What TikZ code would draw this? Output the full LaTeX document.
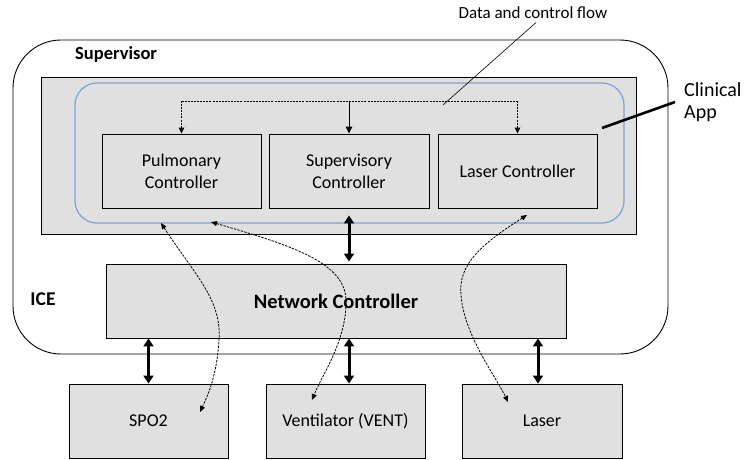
\documentclass[tikz,border=0pt]{standalone}
\usepackage{fontspec}
\setmainfont{Carlito}
\usetikzlibrary{arrows.meta,calc}
\definecolor{boxgray}{HTML}{E0E0E0}
\definecolor{appblue}{HTML}{7BA3D6}
\begin{document}
\begin{tikzpicture}[x=1pt,y=-1pt,
  ctrlbox/.style={draw, line width=0.9pt, minimum width=159pt, minimum height=74pt,
    inner sep=0pt, align=center, font=\fontsize{18}{22}\selectfont},
  devbox/.style={ctrlbox, fill=boxgray},
  boldlbl/.style={font=\bfseries\fontsize{18.5}{22}\selectfont, inner sep=0pt},
  fineflow/.style={line width=0.9pt, dash pattern=on 2pt off 1.1pt},
  finetip/.style={-{Triangle[length=6pt,width=5.5pt]}},
  curveflow/.style={line width=0.8pt, dash pattern=on 2.4pt off 1.2pt,
    {Triangle[length=6pt,width=5pt]}-{Triangle[length=6pt,width=5pt]}},
  thicklink/.style={line width=3pt,
    {Triangle[length=8pt,width=10pt]}-{Triangle[length=8pt,width=10pt]}}
]
\useasboundingbox (0,0) rectangle (745,460);

% ICE outer boundary
\node[draw, line width=0.9pt, rounded corners=48pt, minimum width=655pt,
      minimum height=314pt, inner sep=0pt] (ice) at (340.5,197) {};
\node[boldlbl, font=\bfseries\fontsize{19.5}{22}\selectfont] (icelbl) at (43,299) {ICE};

% Supervisor area and clinical app
\node[draw, line width=0.9pt, fill=boxgray, minimum width=595pt, minimum height=157pt,
      inner sep=0pt] (supv) at (338.5,155.5) {};
\node[boldlbl, anchor=west] (supvlbl) at (75,54) {Supervisor};
\node[draw=appblue, line width=1.2pt, rounded corners=22pt, minimum width=549pt,
      minimum height=140pt, inner sep=0pt] (capp) at (349.5,153) {};

% Controllers inside the clinical app
\node[ctrlbox] (pulm) at (181.5,171) {Pulmonary\\Controller};
\node[ctrlbox, minimum width=160pt] (sup) at (349,171) {Supervisory\\Controller};
\node[ctrlbox] (lasc) at (517.5,171) {Laser Controller};

% Network controller
\node[draw, line width=0.9pt, fill=boxgray, minimum width=460pt, minimum height=74pt,
      inner sep=0pt, font=\bfseries\fontsize{20.5}{24}\selectfont] (net) at (336,301)
      {Network Controller};

% Devices
\node[devbox] (spo) at (148.5,421) {SPO2};
\node[devbox] (vent) at (345.5,421) {Ventilator (VENT)};
\node[devbox, minimum width=160pt] (laser) at (542,421) {Laser};

% Data and control flow distribution
\coordinate (bus) at (0,101);
\draw[fineflow] (pulm.north |- bus) -- (lasc.north |- bus);
\draw[fineflow, finetip] (pulm.north |- bus) -- (pulm.north);
\draw[fineflow, finetip] (lasc.north |- bus) -- (lasc.north);
\draw[line width=0.9pt, -{Triangle[length=7pt,width=6.5pt]}] (sup.north |- bus) -- (sup.north);

% Labels with pointers
\node[font=\fontsize{17}{20}\selectfont] (flowlbl) at (533,13) {Data and control flow};
\coordinate (flowpt) at (443,105);
\draw[line width=0.6pt] (flowlbl.south) ++(3,0) -- (flowpt);

\node[anchor=north west, align=left, inner sep=0pt,
      font=\fontsize{20}{22.5}\selectfont] (clin) at (684,82) {Clinical\\App};
\coordinate (appedge) at (602,128);
\draw[line width=2.6pt] (appedge) -- ($(clin.west)+(-9,0)$);

% Network links
\draw[thicklink, shorten >=2pt] ($(sup.south)+(0,7)$) -- (net.north -| sup.south);
\draw[thicklink] (net.south -| spo.north) -- (spo.north);
\draw[thicklink] (net.south -| sup.south) -- (vent.north -| sup.south);
\draw[thicklink] (net.south -| 538,0) -- (laser.north -| 538,0);

% End-to-end flows between devices and controllers
\coordinate (pa) at (161,223);
\coordinate (pb) at (211,222);
\coordinate (la) at (527,215);
\coordinate (sa) at (200,412);
\coordinate (va) at (312,400);
\coordinate (ra) at (508,402);
\draw[curveflow] (pa) .. controls (195,275) and (222,300) .. (219,340)
                      .. controls (217,375) and (208,395) .. (sa);
\draw[curveflow] (pb) .. controls (290,245) and (345,262) .. (346,300)
                      .. controls (347,340) and (322,375) .. (va);
\draw[curveflow] (la) .. controls (480,245) and (458,265) .. (461,295)
                      .. controls (464,335) and (495,375) .. (ra);
\end{tikzpicture}
\end{document}
